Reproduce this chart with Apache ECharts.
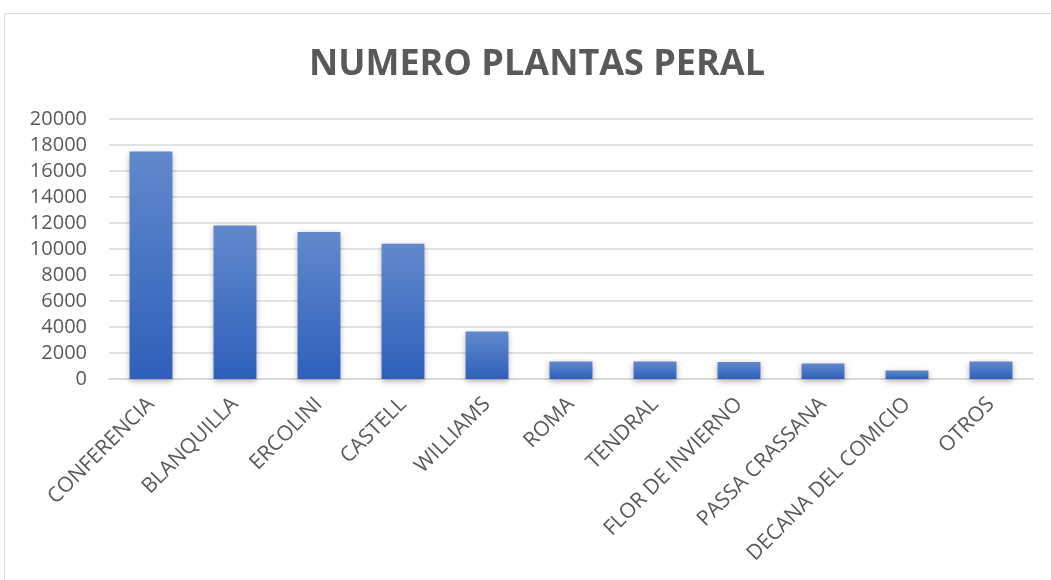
<!DOCTYPE html>
<html>
<head>
<meta charset="utf-8">
<script src="https://cdn.jsdelivr.net/npm/echarts@6/dist/echarts.min.js"></script>
<style>
html,body{margin:0;padding:0;background:#fff;}
#c{width:1051px;height:580px;}
</style>
</head>
<body>
<div id="c"></div>
<script>
const categories = ["CONFERENCIA","BLANQUILLA","ERCOLINI","CASTELL","WILLIAMS","ROMA","TENDRAL","FLOR DE INVIERNO","PASSA CRASSANA","DECANA DEL COMICIO","OTROS"];
const values = [17500, 11800, 11300, 10400, 3650, 1350, 1350, 1300, 1200, 650, 1350];
const titleText = "NUMERO PLANTAS PERAL";

const chart = echarts.init(document.getElementById('c'), null, {renderer:'canvas'});
chart.setOption({
  animation:false,
  backgroundColor:'#fff',
  graphic:[{
    type:'rect', shape:{x:4.5,y:13.5,width:1060,height:600},
    style:{fill:'none',stroke:'#d9d9d9',lineWidth:1}, z:-1
  }],
  title:{
    text:titleText, left:304, top:42,
    textStyle:{fontFamily:'Open Sans', fontWeight:'bold', fontSize:36, color:'#595959'}
  },
  grid:{left:109, right:18, top:119, bottom:201, containLabel:false},
  xAxis:{
    type:'category', data:categories,
    axisLine:{lineStyle:{color:'#d9d9d9', width:2}},
    axisTick:{show:false},
    axisLabel:{rotate:45, interval:0, fontFamily:'Open Sans', fontSize:21, color:'#595959', margin:22}
  },
  yAxis:{
    type:'value', min:0, max:20000, interval:2000,
    axisLine:{show:false}, axisTick:{show:false},
    splitLine:{lineStyle:{color:'#d9d9d9', width:1.5}},
    axisLabel:{fontFamily:'Open Sans', fontSize:20, color:'#595959', margin:22, formatter:function(v){return String(v);}}
  },
  series:[{
    type:'bar', data:values, barWidth:'51%',
    itemStyle:{
      color:new echarts.graphic.LinearGradient(0,0,0,1,[{offset:0,color:'#6289cc'},{offset:1,color:'#2f5fbb'}]),
      shadowBlur:6, shadowColor:'rgba(0,0,0,0.35)', shadowOffsetY:2
    }
  }]
});
</script>
</body>
</html>
